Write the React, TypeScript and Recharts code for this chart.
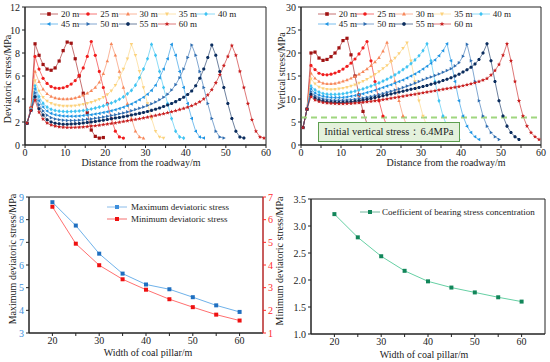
import React from 'react';
import { LineChart, Line, XAxis, YAxis, ReferenceLine, ReferenceArea } from 'recharts';

const FONT = '"Liberation Serif", "Times New Roman", serif';

// one curve per coal pillar width (m)
const pillarWidths = [20, 25, 30, 35, 40, 45, 50, 55, 60];
const curveNames = ['20 m', '25 m', '30 m', '35 m', '40 m', '45 m', '50 m', '55 m', '60 m'];

// deviatoric stress (MPa), one value per metre starting 0.5 m from the roadway
const dev20 = [1.9, 3.2, 8.8, 7.8, 7.0, 6.6, 6.5, 6.7, 7.3, 8.2, 8.95, 8.85, 7.5, 6.0, 4.5, 2.8, 1.3, 0.75, 0.6, 0.65];
const dev25 = [1.9, 3.2, 7.7, 6.6, 5.8, 5.35, 5.08, 4.95, 4.93, 4.98, 5.1, 5.3, 5.6, 6.05, 6.7, 7.7, 9.0, 7.8, 6.4, 5.0, 3.6, 2.3, 1.2, 0.7, 0.6];
const dev30 = [1.9, 3.2, 6.4, 5.5, 4.85, 4.45, 4.22, 4.1, 4.03, 4.0, 4.0, 4.03, 4.1, 4.2, 4.33, 4.5, 4.72, 5.0, 5.45, 6.2, 7.3, 8.8, 7.8, 6.4, 5.0, 3.6, 2.3, 1.2, 0.7, 0.6];
const dev35 = [1.9, 3.1, 5.6, 4.7, 4.15, 3.82, 3.62, 3.5, 3.43, 3.39, 3.38, 3.39, 3.42, 3.47, 3.54, 3.62, 3.72, 3.84, 3.98, 4.14, 4.38, 4.72, 5.2, 5.85, 6.6, 7.5, 8.75, 7.8, 6.4, 5.0, 3.6, 2.3, 1.2, 0.7, 0.6];
const dev40 = [1.9, 3.1, 5.15, 4.2, 3.62, 3.3, 3.1, 3.0, 2.94, 2.91, 2.9, 2.91, 2.93, 2.96, 3.0, 3.06, 3.13, 3.21, 3.3, 3.4, 3.52, 3.65, 3.8, 3.98, 4.18, 4.45, 4.75, 5.2, 5.85, 6.6, 7.5, 8.75, 7.8, 6.4, 5.0, 3.6, 2.3, 1.2, 0.7, 0.6];
const dev45 = [1.9, 3.0, 4.9, 3.85, 3.3, 2.95, 2.75, 2.64, 2.57, 2.53, 2.51, 2.5, 2.51, 2.53, 2.56, 2.6, 2.64, 2.69, 2.75, 2.82, 2.89, 2.97, 3.06, 3.17, 3.29, 3.42, 3.57, 3.74, 3.93, 4.15, 4.42, 4.75, 5.2, 5.85, 6.6, 7.5, 8.75, 7.8, 6.4, 5.0, 3.6, 2.3, 1.2, 0.7, 0.6];
const dev50 = [1.9, 3.0, 4.55, 3.5, 2.95, 2.58, 2.38, 2.27, 2.2, 2.16, 2.14, 2.13, 2.14, 2.16, 2.19, 2.23, 2.27, 2.32, 2.37, 2.43, 2.49, 2.56, 2.63, 2.71, 2.79, 2.88, 2.98, 3.08, 3.19, 3.31, 3.44, 3.58, 3.74, 3.93, 4.15, 4.42, 4.78, 5.25, 5.85, 6.6, 7.6, 8.7, 7.8, 6.4, 5.0, 3.6, 2.3, 1.2, 0.7, 0.6];
const dev55 = [1.9, 3.0, 4.2, 3.15, 2.6, 2.2, 2.0, 1.9, 1.84, 1.81, 1.8, 1.82, 1.84, 1.87, 1.91, 1.95, 2.0, 2.05, 2.1, 2.16, 2.22, 2.28, 2.34, 2.4, 2.46, 2.53, 2.6, 2.67, 2.75, 2.83, 2.92, 3.01, 3.11, 3.22, 3.34, 3.47, 3.61, 3.77, 3.95, 4.15, 4.4, 4.7, 5.15, 5.8, 6.6, 7.6, 8.7, 7.8, 6.4, 5.0, 3.6, 2.3, 1.2, 0.7, 0.6];
const dev60 = [1.9, 3.0, 3.9, 2.85, 2.25, 1.92, 1.74, 1.64, 1.58, 1.54, 1.52, 1.52, 1.53, 1.55, 1.57, 1.6, 1.64, 1.68, 1.72, 1.77, 1.82, 1.87, 1.92, 1.98, 2.04, 2.1, 2.16, 2.22, 2.28, 2.35, 2.42, 2.49, 2.56, 2.64, 2.72, 2.8, 2.89, 2.98, 3.08, 3.18, 3.29, 3.41, 3.56, 3.75, 4.0, 4.35, 4.8, 5.4, 6.1, 6.9, 7.7, 8.65, 7.8, 6.4, 5.0, 3.6, 2.2, 1.2, 0.7, 0.6];

// vertical stress (MPa), same sampling
const ver20 = [3.8, 7.8, 20.0, 20.2, 18.9, 18.4, 18.6, 19.2, 20.0, 21.1, 22.7, 23.2, 19.6, 15.0, 10.9, 7.3, 4.6, 2.9, 1.9, 1.3];
const ver25 = [3.8, 7.8, 17.3, 16.4, 15.6, 15.3, 15.25, 15.4, 15.65, 16.0, 16.5, 17.1, 17.8, 18.7, 19.8, 21.1, 22.5, 18.3, 13.8, 9.6, 6.3, 4.1, 2.7, 1.8, 1.2];
const ver30 = [3.8, 7.8, 15.6, 14.5, 13.8, 13.45, 13.3, 13.3, 13.4, 13.6, 13.85, 14.15, 14.5, 14.9, 15.4, 15.95, 16.55, 17.25, 18.05, 19.0, 20.4, 22.3, 18.3, 13.8, 9.6, 6.3, 4.1, 2.7, 1.8, 1.2];
const ver35 = [3.8, 7.8, 14.4, 13.3, 12.6, 12.25, 12.1, 12.05, 12.1, 12.2, 12.35, 12.55, 12.8, 13.1, 13.45, 13.85, 14.3, 14.8, 15.35, 15.95, 16.6, 17.3, 18.1, 18.9, 19.9, 21.0, 22.2, 18.3, 13.8, 9.6, 6.3, 4.1, 2.7, 1.8, 1.2];
const ver40 = [3.8, 7.8, 12.8, 12.0, 11.5, 11.2, 11.05, 11.0, 11.0, 11.05, 11.15, 11.3, 11.5, 11.7, 11.95, 12.2, 12.5, 12.8, 13.15, 13.5, 13.9, 14.3, 14.75, 15.25, 15.8, 16.4, 17.0, 17.7, 18.5, 19.4, 20.5, 22.0, 18.3, 13.8, 9.6, 6.3, 4.1, 2.7, 1.8, 1.2];
const ver45 = [3.8, 7.8, 12.2, 11.3, 10.85, 10.6, 10.45, 10.35, 10.3, 10.3, 10.35, 10.45, 10.6, 10.75, 10.95, 11.15, 11.4, 11.65, 11.9, 12.2, 12.5, 12.8, 13.1, 13.45, 13.8, 14.15, 14.55, 15.0, 15.45, 15.95, 16.5, 17.1, 17.75, 18.5, 19.4, 20.5, 22.0, 18.3, 13.8, 9.6, 6.3, 4.1, 2.7, 1.8, 1.2];
const ver50 = [3.8, 7.8, 11.6, 10.7, 10.25, 10.0, 9.85, 9.75, 9.7, 9.7, 9.72, 9.78, 9.86, 9.96, 10.08, 10.22, 10.38, 10.56, 10.76, 10.98, 11.2, 11.45, 11.7, 11.95, 12.2, 12.5, 12.8, 13.1, 13.45, 13.8, 14.2, 14.5, 14.8, 15.1, 15.45, 15.8, 16.2, 16.6, 17.2, 17.9, 19.3, 21.9, 18.3, 13.8, 9.6, 6.3, 4.1, 2.7, 1.8, 1.2];
const ver55 = [3.8, 7.8, 11.0, 10.2, 9.8, 9.55, 9.4, 9.32, 9.27, 9.25, 9.27, 9.32, 9.4, 9.5, 9.62, 9.76, 9.92, 10.1, 10.3, 10.5, 10.7, 10.9, 11.1, 11.3, 11.5, 11.7, 11.9, 12.1, 12.3, 12.5, 12.7, 12.95, 13.2, 13.45, 13.7, 14.0, 14.3, 14.6, 15.0, 15.4, 15.85, 16.35, 16.9, 17.6, 18.6, 20.0, 22.0, 18.3, 13.8, 9.6, 6.3, 4.1, 2.7, 1.8, 1.2];
const ver60 = [3.8, 7.8, 10.5, 9.8, 9.45, 9.25, 9.12, 9.05, 9.0, 8.98, 8.98, 9.0, 9.04, 9.1, 9.18, 9.27, 9.37, 9.48, 9.6, 9.73, 9.87, 10.0, 10.15, 10.3, 10.45, 10.6, 10.75, 10.9, 11.05, 11.2, 11.35, 11.5, 11.65, 11.8, 11.95, 12.1, 12.25, 12.4, 12.55, 12.7, 12.9, 13.1, 13.3, 13.55, 13.8, 14.1, 14.45, 15.2, 16.2, 17.5, 19.5, 22.0, 18.3, 13.8, 9.6, 6.3, 4.1, 2.7, 1.8, 1.2];

const devCurves = [dev20, dev25, dev30, dev35, dev40, dev45, dev50, dev55, dev60];
const verCurves = [ver20, ver25, ver30, ver35, ver40, ver45, ver50, ver55, ver60];

// summary vs pillar width
const maxDeviatoric = [8.77, 7.74, 6.5, 5.62, 5.14, 4.93, 4.58, 4.22, 3.93];
const minDeviatoric = [6.57, 4.94, 3.99, 3.37, 2.91, 2.49, 2.14, 1.81, 1.55];
const concentration = [3.22, 2.79, 2.44, 2.17, 1.975, 1.86, 1.77, 1.68, 1.6];

const initialVertical = 6;

const distanceTicks = [0, 5, 10, 15, 20, 25, 30, 35, 40, 45, 50, 55, 60];
const devTicks = [0, 2, 4, 6, 8, 10, 12];
const verTicks = [0, 5, 10, 15, 20, 25, 30];
const widthTicks = [20, 25, 30, 35, 40, 45, 50, 55, 60];
const maxTicks = [3, 4, 5, 6, 7, 8, 9];
const minTicks = [1, 2, 3, 4, 5, 6, 7];
const coefTicks = [1, 1.5, 2, 2.5, 3, 3.5];

const curveColors = ['#a01212', '#f01c1c', '#f7875a', '#fcd27c', '#3fc3f2', '#1f95e3', '#2f6db0', '#0b2d5e', '#c81e1e'];
const markerShapes = ['square', 'circle', 'up', 'down', 'diamond', 'left', 'right', 'hexagon', 'star'];

const toPoints = (ys: number[]) => ys.map((y, i) => ({ x: i + 0.5, y }));

function markerPath(shape: string, cx: number, cy: number, r: number) {
  switch (shape) {
    case 'square':
      return `M${cx - r},${cy - r}h${2 * r}v${2 * r}h${-2 * r}Z`;
    case 'circle':
      return `M${cx - r},${cy}a${r},${r} 0 1 0 ${2 * r},0a${r},${r} 0 1 0 ${-2 * r},0Z`;
    case 'up':
      return `M${cx},${cy - r * 1.2}L${cx + r * 1.1},${cy + r * 0.8}L${cx - r * 1.1},${cy + r * 0.8}Z`;
    case 'down':
      return `M${cx},${cy + r * 1.2}L${cx + r * 1.1},${cy - r * 0.8}L${cx - r * 1.1},${cy - r * 0.8}Z`;
    case 'diamond':
      return `M${cx},${cy - r * 1.3}L${cx + r},${cy}L${cx},${cy + r * 1.3}L${cx - r},${cy}Z`;
    case 'left':
      return `M${cx - r * 1.2},${cy}L${cx + r * 0.8},${cy - r * 1.1}L${cx + r * 0.8},${cy + r * 1.1}Z`;
    case 'right':
      return `M${cx + r * 1.2},${cy}L${cx - r * 0.8},${cy - r * 1.1}L${cx - r * 0.8},${cy + r * 1.1}Z`;
    case 'hexagon': {
      const pts = [0, 1, 2, 3, 4, 5].map((k) => {
        const a = (Math.PI / 3) * k;
        return `${cx + r * 1.1 * Math.cos(a)},${cy + r * 1.1 * Math.sin(a)}`;
      });
      return `M${pts.join('L')}Z`;
    }
    default: {
      const pts = [];
      for (let k = 0; k < 10; k++) {
        const a = -Math.PI / 2 + (Math.PI / 5) * k;
        const rr = k % 2 === 0 ? r * 1.4 : r * 0.6;
        pts.push(`${cx + rr * Math.cos(a)},${cy + rr * Math.sin(a)}`);
      }
      return `M${pts.join('L')}Z`;
    }
  }
}

const makeDot = (color: string, shape: string, r: number) => (props: any) => {
  const { cx, cy, index } = props;
  if (cx == null || cy == null) return <g key={`e-${index}`} />;
  return <path key={`d-${index}`} d={markerPath(shape, cx, cy, r)} fill={color} />;
};

const tickStyle = { fontSize: 10, fill: '#222', fontFamily: FONT };

function Title({ x, y, text, rotate = false, color = '#222' }: any) {
  return (
    <div
      style={{
        position: 'absolute',
        left: x,
        top: y,
        transform: `translate(-50%, -50%)${rotate ? ' rotate(-90deg)' : ''}`,
        whiteSpace: 'nowrap',
        fontSize: 10,
        lineHeight: '12px',
        color,
      }}
    >
      {text}
    </div>
  );
}

function Swatch({ color, shape, width = 18, r = 1.8 }: any) {
  return (
    <svg width={width} height={8} style={{ display: 'block', flex: 'none' }}>
      <line x1={0} y1={4} x2={width} y2={4} stroke={color} strokeOpacity={0.6} strokeWidth={1} />
      <path d={markerPath(shape, width / 2, 4, r)} fill={color} />
    </svg>
  );
}

function CurveLegend({ left, colWidth }: { left: number; colWidth: number }) {
  return (
    <div
      style={{
        position: 'absolute',
        left,
        top: 9,
        display: 'grid',
        gridTemplateColumns: `repeat(5, ${colWidth}px)`,
        gridAutoRows: '10px',
        fontSize: 9,
        color: '#222',
      }}
    >
      {curveNames.map((name, i) => (
        <div key={name} style={{ display: 'flex', alignItems: 'center' }}>
          <Swatch color={curveColors[i]} shape={markerShapes[i]} />
          <span style={{ marginLeft: 3, lineHeight: '10px', whiteSpace: 'nowrap' }}>{name}</span>
        </div>
      ))}
    </div>
  );
}

function ProfilePanel({ left, curves, yMax, yTicks, yAxisWidth, rightMargin, children }: any) {
  return (
    <div style={{ position: 'absolute', left, top: 0 }}>
      <LineChart width={275} height={181} margin={{ top: 7, right: rightMargin, bottom: 0, left: 0 }}>
        <XAxis
          type="number"
          dataKey="x"
          domain={[0, 60]}
          ticks={distanceTicks}
          tickFormatter={(v: number) => (v % 10 === 0 ? String(v) : '')}
          allowDataOverflow
          height={36}
          tickSize={3}
          tickMargin={1}
          stroke="#222"
          tick={tickStyle}
        />
        <YAxis
          type="number"
          domain={[0, yMax]}
          ticks={yTicks}
          allowDataOverflow
          width={yAxisWidth}
          tickSize={3}
          tickMargin={2}
          stroke="#222"
          tick={tickStyle}
        />
        <ReferenceArea x1={0} x2={60} y1={0} y2={yMax} fill="none" stroke="#222" strokeWidth={1} ifOverflow="visible" />
        {curves.map((ys: number[], i: number) => (
          <Line
            key={curveNames[i]}
            data={toPoints(ys)}
            dataKey="y"
            name={curveNames[i]}
            type="linear"
            stroke={curveColors[i]}
            strokeOpacity={0.6}
            strokeWidth={1}
            dot={makeDot(curveColors[i], markerShapes[i], 1.6)}
            activeDot={false}
            isAnimationActive={false}
          />
        ))}
        {children}
      </LineChart>
    </div>
  );
}

export default function App() {
  const summary = pillarWidths.map((w, i) => ({
    w,
    max: maxDeviatoric[i],
    min: minDeviatoric[i],
    coef: concentration[i],
  }));

  return (
    <div
      style={{
        position: 'absolute',
        left: 0,
        top: 0,
        width: 550,
        height: 362,
        background: '#fff',
        overflow: 'hidden',
        fontFamily: FONT,
      }}
    >
      <ProfilePanel left={0} curves={devCurves} yMax={12} yTicks={devTicks} yAxisWidth={25} rightMargin={9} />
      <ProfilePanel left={275} curves={verCurves} yMax={30} yTicks={verTicks} yAxisWidth={26} rightMargin={9}>
        <ReferenceLine y={initialVertical} stroke="#9fd67f" strokeWidth={2} strokeDasharray="6 4" />
      </ProfilePanel>

      {/* bottom left: max / min deviatoric stress */}
      <div style={{ position: 'absolute', left: 0, top: 181 }}>
        <LineChart width={275} height={181} data={summary} margin={{ top: 16, right: 0, bottom: 0, left: 0 }}>
          <XAxis
            type="number"
            dataKey="w"
            domain={[15, 65]}
            ticks={widthTicks}
            tickFormatter={(v: number) => (v % 10 === 0 ? String(v) : '')}
            height={29}
            tickSize={3}
            tickMargin={1}
            stroke="#222"
            tick={tickStyle}
          />
          <YAxis
            yAxisId="left"
            type="number"
            domain={[3, 9]}
            ticks={maxTicks}
            allowDataOverflow
            width={29}
            tickSize={3}
            tickMargin={2}
            stroke="#222"
            tick={{ ...tickStyle, fill: '#3d8fdc' }}
          />
          <YAxis
            yAxisId="right"
            orientation="right"
            type="number"
            domain={[1, 7]}
            ticks={minTicks}
            allowDataOverflow
            width={12}
            tickSize={3}
            tickMargin={2}
            stroke="#ff2a2a"
            tick={{ ...tickStyle, fill: '#ff2a2a' }}
          />
          <ReferenceArea yAxisId="left" x1={15} x2={65} y1={3} y2={9} fill="none" stroke="#222" ifOverflow="visible" />
          <Line
            yAxisId="left"
            dataKey="max"
            name="Maximum deviatoric stress"
            stroke="#6fb2ea"
            strokeWidth={1}
            dot={makeDot('#1f6fc0', 'square', 2)}
            activeDot={false}
            isAnimationActive={false}
          />
          <Line
            yAxisId="right"
            dataKey="min"
            name="Minimum deviatoric stress"
            stroke="#ff7070"
            strokeWidth={1}
            dot={makeDot('#ee1111', 'square', 2)}
            activeDot={false}
            isAnimationActive={false}
          />
        </LineChart>
      </div>

      {/* bottom right: coefficient of bearing stress concentration */}
      <div style={{ position: 'absolute', left: 275, top: 181 }}>
        <LineChart width={275} height={181} data={summary} margin={{ top: 18, right: 5, bottom: 0, left: 0 }}>
          <XAxis
            type="number"
            dataKey="w"
            domain={[15, 65]}
            ticks={widthTicks}
            tickFormatter={(v: number) => (v % 10 === 0 ? String(v) : '')}
            height={28}
            tickSize={3}
            tickMargin={1}
            stroke="#222"
            tick={tickStyle}
          />
          <YAxis
            type="number"
            domain={[1, 3.5]}
            ticks={coefTicks}
            tickFormatter={(v: number) => v.toFixed(1)}
            allowDataOverflow
            width={36}
            tickSize={3}
            tickMargin={2}
            stroke="#222"
            tick={tickStyle}
          />
          <ReferenceArea x1={15} x2={65} y1={1} y2={3.5} fill="none" stroke="#222" ifOverflow="visible" />
          <Line
            dataKey="coef"
            name="Coefficient of bearing stress concentration"
            stroke="#66d0a4"
            strokeWidth={1}
            dot={makeDot('#12865a', 'square', 2)}
            activeDot={false}
            isAnimationActive={false}
          />
        </LineChart>
      </div>

      {/* legends */}
      <CurveLegend left={40} colWidth={39.25} />
      <CurveLegend left={317.7} colWidth={38.5} />

      <div style={{ position: 'absolute', left: 107, top: 201, fontSize: 9, color: '#222' }}>
        <div style={{ display: 'flex', alignItems: 'center', height: 12 }}>
          <Swatch color="#3d8fdc" shape="square" width={20} r={2} />
          <span style={{ marginLeft: 4, whiteSpace: 'nowrap' }}>Maximum deviatoric stress</span>
        </div>
        <div style={{ display: 'flex', alignItems: 'center', height: 12 }}>
          <Swatch color="#ee1111" shape="square" width={20} r={2} />
          <span style={{ marginLeft: 4, whiteSpace: 'nowrap' }}>Minimum deviatoric stress</span>
        </div>
      </div>
      <div style={{ position: 'absolute', left: 360, top: 205.7, fontSize: 9, color: '#222' }}>
        <div style={{ display: 'flex', alignItems: 'center', height: 12 }}>
          <Swatch color="#12865a" shape="square" width={20} r={2} />
          <span style={{ marginLeft: 2, whiteSpace: 'nowrap' }}>Coefficient of bearing stress concentration</span>
        </div>
      </div>

      {/* annotation box */}
      <div
        style={{
          position: 'absolute',
          left: 317.7,
          top: 121.7,
          width: 142.3,
          height: 20,
          boxSizing: 'border-box',
          background: '#e4f1dc',
          border: '1.5px solid #5d9f4f',
          display: 'flex',
          alignItems: 'center',
          justifyContent: 'center',
          fontSize: 10.5,
          color: '#222',
          whiteSpace: 'nowrap',
        }}
      >
        Initial vertical stress：6.4MPa
      </div>

      {/* axis titles */}
      <Title x={141} y={163} text="Distance from the roadway/m" />
      <Title x={8} y={79} text="Deviatoric stress/MPa" rotate />
      <Title x={446} y={163} text="Distance from the roadway/m" />
      <Title x={282} y={71} text="Vertical stress/MPa" rotate />
      <Title x={148} y={352.5} text="Width of coal pillar/m" />
      <Title x={13} y={259} text="Maximum deviatoric stress/MPa" rotate />
      <Title x={424} y={355} text="Width of coal pillar/m" />
      <Title x={280} y={261} text="Minimum deviatoric stress/MPa" rotate />
    </div>
  );
}
